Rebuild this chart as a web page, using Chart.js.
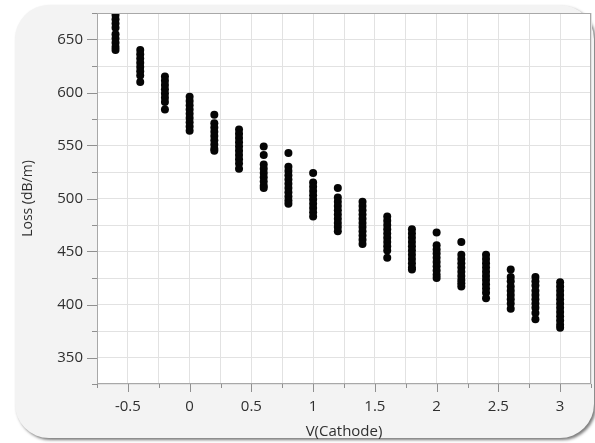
<!DOCTYPE html>
<html>
<head>
<meta charset="utf-8">
<script src="https://cdn.jsdelivr.net/npm/chart.js@4/dist/chart.umd.min.js"></script>
<style>
  html, body { margin: 0; padding: 0; background: #ffffff; }
  #wrap { position: relative; width: 595px; height: 443px; overflow: hidden; }
  #panel { position: absolute; left: 15px; top: 5px; width: 579px; height: 433px;
           background: #f3f3f3; border-radius: 34px;
           box-shadow: 2px 2px 3px rgba(90,90,90,0.8); }
  #c { position: absolute; left: 0; top: 0; }
</style>
</head>
<body>
<div id="wrap">
  <div id="panel"></div>
  <canvas id="c" width="595" height="443"></canvas>
</div>
<script>
// ---- data ----
const voltages = [-0.6, -0.4, -0.2, 0, 0.2, 0.4, 0.6, 0.8, 1.0, 1.2, 1.4, 1.6, 1.8, 2.0, 2.2, 2.4, 2.6, 2.8, 3.0];
const lossVm06 = [673, 669, 665, 661, 655, 651, 647, 643, 640];
const lossVm04 = [640, 636, 632, 628, 624, 620, 616, 610];
const lossVm02 = [615, 611, 607, 603, 599, 595, 591, 584];
const lossV00 = [596, 592, 588, 584, 580, 576, 572, 568, 564];
const lossV02 = [579, 571, 567, 563, 559, 555, 551, 547, 545];
const lossV04 = [565, 561, 557, 553, 549, 545, 541, 537, 533, 528];
const lossV06 = [549, 541, 532, 528, 524, 520, 516, 512, 510];
const lossV08 = [543, 530, 526, 522, 518, 514, 510, 506, 502, 498, 495];
const lossV10 = [524, 515, 511, 507, 503, 499, 495, 491, 487, 483];
const lossV12 = [510, 501, 497, 493, 489, 485, 481, 477, 473, 469];
const lossV14 = [497, 493, 489, 485, 481, 477, 473, 469, 465, 461, 457];
const lossV16 = [483, 479, 475, 471, 467, 463, 459, 455, 451, 444];
const lossV18 = [471, 467, 463, 459, 455, 451, 447, 443, 439, 435, 433];
const lossV20 = [468, 456, 452, 448, 444, 440, 436, 432, 428, 425];
const lossV22 = [459, 447, 443, 439, 435, 431, 427, 423, 420, 417];
const lossV24 = [447, 443, 439, 435, 431, 427, 423, 419, 415, 411, 406];
const lossV26 = [433, 426, 422, 417, 413, 409, 405, 401, 396];
const lossV28 = [426, 422, 418, 413, 409, 405, 401, 397, 392, 386];
const lossV30 = [421, 417, 413, 409, 405, 401, 397, 393, 389, 385, 381, 378];
const lossColumns = [lossVm06, lossVm04, lossVm02, lossV00, lossV02, lossV04, lossV06, lossV08, lossV10,
                     lossV12, lossV14, lossV16, lossV18, lossV20, lossV22, lossV24, lossV26, lossV28, lossV30];
const xTickLabels = ['-0.5', '0', '0.5', '1', '1.5', '2', '2.5', '3'];
const yTickLabels = ['350', '400', '450', '500', '550', '600', '650'];
const xTitle = 'V(Cathode)';
const yTitle = 'Loss (dB/m)';

// ---- build points ----
const points = [];
voltages.forEach((v, i) => lossColumns[i].forEach(l => points.push({x: v, y: l})));

const FONT = "'Open Sans', 'Noto Sans', sans-serif";
const TEXT = '#2f2f2f';

const keyX = v => String(Math.round(v * 100) / 100);
const keyY = v => String(Math.round(v));
const isMajorX = v => xTickLabels.includes(keyX(v));
const isMajorY = v => yTickLabels.includes(keyY(v));

const plotDeco = {
  id: 'plotDeco',
  beforeDraw(chart) {
    const {ctx, chartArea: a} = chart;
    ctx.save();
    ctx.fillStyle = '#ffffff';
    ctx.fillRect(a.left, a.top, a.right - a.left, a.bottom - a.top);
    ctx.restore();
  },
  afterDatasetsDraw(chart) {
    const {ctx, chartArea: a, scales: {x, y}} = chart;
    ctx.save();
    ctx.strokeStyle = '#a8a8a8';
    ctx.lineWidth = 1;
    ctx.strokeRect(a.left + 0.5, a.top + 0.5, a.right - a.left - 1, a.bottom - a.top - 1);
    ctx.strokeStyle = '#909090';
    ctx.beginPath();
    x.ticks.forEach(t => {
      const px = Math.round(x.getPixelForValue(t.value)) + 0.5;
      const len = isMajorX(t.value) ? 8 : 4;
      ctx.moveTo(px, a.bottom); ctx.lineTo(px, a.bottom + len);
    });
    y.ticks.forEach(t => {
      const py = Math.round(y.getPixelForValue(t.value)) + 0.5;
      const len = isMajorY(t.value) ? 10 : 5;
      ctx.moveTo(a.left, py); ctx.lineTo(a.left - len, py);
    });
    ctx.stroke();
    ctx.restore();
  }
};

new Chart(document.getElementById('c'), {
  type: 'scatter',
  data: {
    datasets: [{
      data: points,
      pointRadius: 4,
      pointHoverRadius: 4,
      pointBackgroundColor: '#050505',
      pointBorderWidth: 0,
      borderWidth: 0
    }]
  },
  options: {
    responsive: false,
    animation: false,
    events: [],
    layout: { padding: { left: 0, right: 4, top: 13, bottom: 0 } },
    plugins: { legend: { display: false }, tooltip: { enabled: false } },
    scales: {
      x: {
        type: 'linear', min: -0.75, max: 3.25,
        afterBuildTicks(s) {
          s.ticks = [];
          for (let k = -3; k <= 13; k++) s.ticks.push({value: k * 0.25});
        },
        afterFit(s) { s.height = 59; },
        grid: { color: '#e2e2e2', lineWidth: 1, drawTicks: true, tickLength: 13, tickColor: 'rgba(0,0,0,0)' },
        border: { display: false },
        ticks: {
          padding: 1,
          autoSkip: false, maxRotation: 0,
          color: TEXT,
          font: { family: FONT, size: 15 },
          callback: v => (isMajorX(v) ? xTickLabels[xTickLabels.indexOf(keyX(v))] : '')
        },
        title: { display: true, text: xTitle, color: TEXT,
                 font: { family: FONT, size: 15 }, padding: { top: 0, bottom: 2 } }
      },
      y: {
        type: 'linear', min: 325, max: 675,
        afterBuildTicks(s) {
          s.ticks = [];
          for (let k = 13; k <= 27; k++) s.ticks.push({value: k * 25});
        },
        afterFit(s) { s.width = 97; },
        grid: { color: '#e2e2e2', lineWidth: 1, drawTicks: true, tickLength: 13, tickColor: 'rgba(0,0,0,0)' },
        border: { display: false },
        ticks: {
          padding: 1,
          autoSkip: false,
          color: TEXT,
          font: { family: FONT, size: 15 },
          callback: v => (isMajorY(v) ? yTickLabels[yTickLabels.indexOf(keyY(v))] : '')
        },
        title: { display: true, text: yTitle, color: TEXT,
                 font: { family: FONT, size: 14 }, padding: { top: 20, bottom: 0 } }
      }
    }
  },
  plugins: [plotDeco]
});
</script>
</body>
</html>
